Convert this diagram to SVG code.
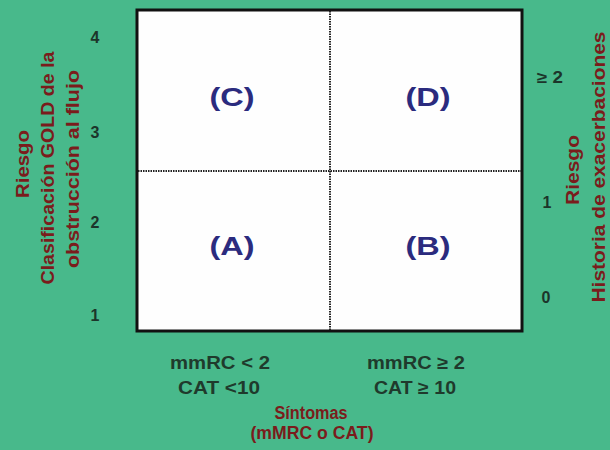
<svg xmlns="http://www.w3.org/2000/svg" width="610" height="450" viewBox="0 0 610 450">
<style>
.tick{font-family:"Liberation Sans",Arial,sans-serif;font-weight:bold;font-size:16px;fill:#1c352a}
.axis{font-family:"Liberation Sans",Arial,sans-serif;font-weight:bold;font-size:18px;fill:#7a1c1c}
.bot{font-family:"Liberation Sans",Arial,sans-serif;font-weight:bold;font-size:18px;fill:#1f3a2c}
.quad{font-family:"Liberation Sans",Arial,sans-serif;font-weight:bold;font-size:26px;fill:#2b2b7e}
.mid{stroke:#222;stroke-width:2;stroke-dasharray:1.5 1}
</style>
<rect width="610" height="450" fill="#48b98b"/>
<g id="grid">
<rect x="137" y="10" width="385" height="321" fill="#fefefe" stroke="#111" stroke-width="3"/>
</g>
<g id="connectors">
<line class="mid" x1="330" y1="11" x2="330" y2="330"/>
<line class="mid" x1="138" y1="171" x2="521" y2="171"/>
</g>
<g id="quadC"><text class="quad" x="232" y="106" text-anchor="middle" textLength="45" lengthAdjust="spacingAndGlyphs">(C)</text></g>
<g id="quadD"><text class="quad" x="428" y="106" text-anchor="middle" textLength="45" lengthAdjust="spacingAndGlyphs">(D)</text></g>
<g id="quadA"><text class="quad" x="232" y="255" text-anchor="middle" textLength="45" lengthAdjust="spacingAndGlyphs">(A)</text></g>
<g id="quadB"><text class="quad" x="428" y="255" text-anchor="middle" textLength="45" lengthAdjust="spacingAndGlyphs">(B)</text></g>
<g id="leftTicks">
<text class="tick" x="95" y="43" text-anchor="middle">4</text>
<text class="tick" x="95" y="138" text-anchor="middle">3</text>
<text class="tick" x="95" y="228" text-anchor="middle">2</text>
<text class="tick" x="95" y="321" text-anchor="middle">1</text>
</g>
<g id="rightTicks">
<text class="tick" x="537" y="83" textLength="26" lengthAdjust="spacingAndGlyphs">≥ 2</text>
<text class="tick" x="547" y="208" text-anchor="middle">1</text>
<text class="tick" x="546" y="303" text-anchor="middle">0</text>
</g>
<g id="leftAxis">
<text class="axis" transform="translate(29,164) rotate(-90)" text-anchor="middle" textLength="68" lengthAdjust="spacingAndGlyphs">Riesgo</text>
<text class="axis" transform="translate(54,168) rotate(-90)" text-anchor="middle" textLength="233" lengthAdjust="spacingAndGlyphs">Clasificación GOLD de la</text>
<text class="axis" transform="translate(79,169) rotate(-90)" text-anchor="middle" textLength="198" lengthAdjust="spacingAndGlyphs">obstrucción al flujo</text>
</g>
<g id="rightAxis">
<text class="axis" transform="translate(579,170) rotate(-90)" text-anchor="middle" textLength="70" lengthAdjust="spacingAndGlyphs">Riesgo</text>
<text class="axis" transform="translate(605,167) rotate(-90)" text-anchor="middle" textLength="271" lengthAdjust="spacingAndGlyphs">Historia de exacerbaciones</text>
</g>
<g id="bottom">
<text class="bot" x="220" y="369" text-anchor="middle" textLength="100" lengthAdjust="spacingAndGlyphs">mmRC &lt; 2</text>
<text class="bot" x="219" y="394" text-anchor="middle" textLength="82" lengthAdjust="spacingAndGlyphs">CAT &lt;10</text>
<text class="bot" x="416" y="369" text-anchor="middle" textLength="98" lengthAdjust="spacingAndGlyphs">mmRC ≥ 2</text>
<text class="bot" x="415" y="394" text-anchor="middle" textLength="82" lengthAdjust="spacingAndGlyphs">CAT ≥ 10</text>
<text class="axis" x="311" y="419" text-anchor="middle" font-size="17" textLength="73" lengthAdjust="spacingAndGlyphs">Síntomas</text>
<text class="axis" x="312" y="439" text-anchor="middle" font-size="17" textLength="123" lengthAdjust="spacingAndGlyphs">(mMRC o CAT)</text>
</g>
</svg>
